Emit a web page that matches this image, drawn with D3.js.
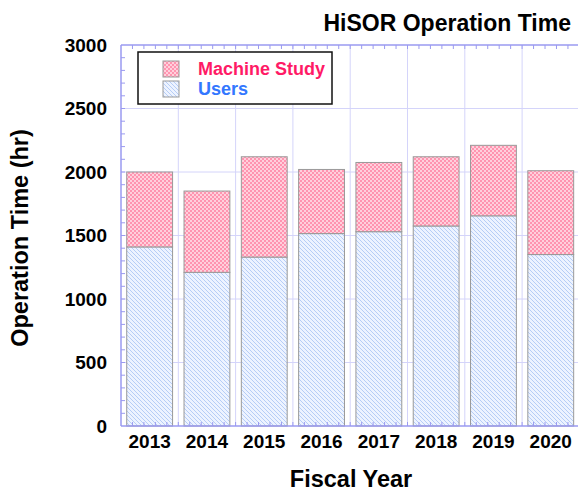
<!DOCTYPE html>
<html>
<head>
<meta charset="utf-8">
<script src="https://cdn.jsdelivr.net/npm/d3@7"></script>
<style>
  body { margin: 0; background: #fff; }
  text { font-family: "Liberation Sans", Arial, sans-serif; font-weight: bold; }
</style>
</head>
<body>
<svg id="chart" width="578" height="492"></svg>
<script>
// HiSOR operation time, stacked bars
var years = ["2013", "2014", "2015", "2016", "2017", "2018", "2019", "2020"];
var users = [1410, 1210, 1330, 1515, 1530, 1575, 1655, 1350];
var totals = [2000, 1850, 2120, 2020, 2075, 2120, 2210, 2010];
var yTicks = [0, 500, 1000, 1500, 2000, 2500, 3000];

var svg = d3.select("#chart"),
    plotLeft = 121, plotRight = 579.4, plotTop = 45, plotBottom = 426;

var x = d3.scaleBand()
    .domain(years)
    .range([plotLeft, plotRight])
    .paddingInner(0.2)
    .paddingOuter(0.1);

var y = d3.scaleLinear()
    .domain([0, 3000])
    .range([plotBottom, plotTop]);

var axisColor = "#9a9af0", gridColor = "#d4d4fa";

// patterns
var defs = svg.append("defs");
var pink = defs.append("pattern")
    .attr("id", "pink").attr("patternUnits", "userSpaceOnUse")
    .attr("width", 4).attr("height", 4);
pink.append("rect").attr("width", 4).attr("height", 4).attr("fill", "#ffd0dc");
pink.append("rect").attr("width", 2).attr("height", 2).attr("fill", "#ff94b0");
pink.append("rect").attr("x", 2).attr("y", 2).attr("width", 2).attr("height", 2).attr("fill", "#ff94b0");

var blue = defs.append("pattern")
    .attr("id", "blue").attr("patternUnits", "userSpaceOnUse")
    .attr("width", 4).attr("height", 4);
blue.append("rect").attr("width", 4).attr("height", 4).attr("fill", "#edf3ff");
blue.append("path").attr("d", "M-1,-1 L5,5 M-1,3 L1,5 M3,-1 L5,1")
    .attr("stroke", "#b6cdf6").attr("stroke-width", 1);

// gridlines
var bounds = d3.range(years.length + 1).map(function(i) { return plotLeft + i * x.step(); });
svg.append("g").selectAll("line")
  .data(bounds.slice(1)).enter().append("line")
    .attr("x1", function(d) { return d; }).attr("x2", function(d) { return d; })
    .attr("y1", plotTop).attr("y2", plotBottom)
    .attr("stroke", gridColor);
svg.append("g").selectAll("line")
  .data(yTicks.slice(1, -1)).enter().append("line")
    .attr("x1", plotLeft).attr("x2", plotRight)
    .attr("y1", function(d) { return y(d); }).attr("y2", function(d) { return y(d); })
    .attr("stroke", gridColor);

// bars
var bars = svg.append("g").selectAll("g")
  .data(years).enter().append("g");

bars.append("rect")
    .attr("x", function(d) { return x(d); })
    .attr("width", x.bandwidth())
    .attr("y", function(d, i) { return y(users[i]); })
    .attr("height", function(d, i) { return y(0) - y(users[i]); })
    .attr("fill", "url(#blue)")
    .attr("stroke", "#999");

bars.append("rect")
    .attr("x", function(d) { return x(d); })
    .attr("width", x.bandwidth())
    .attr("y", function(d, i) { return y(totals[i]); })
    .attr("height", function(d, i) { return y(users[i]) - y(totals[i]); })
    .attr("fill", "url(#pink)")
    .attr("stroke", "#999");

// frame
var frame = svg.append("g").attr("stroke", axisColor).attr("stroke-width", 1.5);
frame.append("line").attr("x1", plotLeft).attr("x2", plotLeft).attr("y1", plotTop).attr("y2", plotBottom);
frame.append("line").attr("x1", plotLeft).attr("x2", plotRight).attr("y1", plotBottom).attr("y2", plotBottom);
frame.append("line").attr("x1", plotLeft).attr("x2", plotRight).attr("y1", plotTop).attr("y2", plotTop);

// minor ticks
var yMinor = d3.range(100, 3000, 100);
svg.append("g").selectAll("line")
  .data(yMinor).enter().append("line")
    .attr("x1", plotLeft).attr("x2", plotLeft + 4)
    .attr("y1", function(d) { return y(d); }).attr("y2", function(d) { return y(d); })
    .attr("stroke", axisColor);

var xMinor = d3.range(1, years.length * 5).map(function(i) { return plotLeft + i * x.step() / 5; });
svg.append("g").selectAll("line")
  .data(xMinor).enter().append("line")
    .attr("x1", function(d) { return d; }).attr("x2", function(d) { return d; })
    .attr("y1", plotBottom).attr("y2", plotBottom - 4)
    .attr("stroke", axisColor);
svg.append("g").selectAll("line")
  .data(xMinor).enter().append("line")
    .attr("x1", function(d) { return d; }).attr("x2", function(d) { return d; })
    .attr("y1", plotTop).attr("y2", plotTop + 4)
    .attr("stroke", axisColor);

// tick labels
svg.append("g").selectAll("text")
  .data(yTicks).enter().append("text")
    .attr("x", 107)
    .attr("y", function(d) { return y(d); })
    .attr("dy", "0.36em")
    .attr("text-anchor", "end")
    .attr("font-size", 19)
    .text(function(d) { return d; });

svg.append("g").selectAll("text")
  .data(years).enter().append("text")
    .attr("x", function(d) { return x(d) + x.bandwidth() / 2; })
    .attr("y", 448)
    .attr("text-anchor", "middle")
    .attr("font-size", 19)
    .text(function(d) { return d; });

// titles
svg.append("text")
    .attr("x", 571).attr("y", 31)
    .attr("text-anchor", "end")
    .attr("font-size", 23)
    .text("HiSOR Operation Time");

svg.append("text")
    .attr("x", 351).attr("y", 487)
    .attr("text-anchor", "middle")
    .attr("font-size", 23.5)
    .text("Fiscal Year");

svg.append("text")
    .attr("transform", "translate(28,238) rotate(-90)")
    .attr("text-anchor", "middle")
    .attr("font-size", 23.5)
    .text("Operation Time (hr)");

// legend
var legend = svg.append("g");
legend.append("rect")
    .attr("x", 138).attr("y", 52).attr("width", 194).attr("height", 52)
    .attr("fill", "#fff").attr("stroke", "#111").attr("stroke-width", 1.5);

var legendItems = [
  { name: "Machine Study", fill: "url(#pink)", color: "#ff1a66" },
  { name: "Users", fill: "url(#blue)", color: "#3377ff" }
];
var li = legend.selectAll("g")
  .data(legendItems).enter().append("g")
    .attr("transform", function(d, i) { return "translate(0," + (i * 20) + ")"; });
li.append("rect")
    .attr("x", 163).attr("y", 61).attr("width", 16).attr("height", 16)
    .attr("fill", function(d) { return d.fill; })
    .attr("stroke", "#999");
li.append("text")
    .attr("x", 198).attr("y", 75)
    .attr("font-size", 18)
    .attr("fill", function(d) { return d.color; })
    .text(function(d) { return d.name; });
</script>
</body>
</html>
